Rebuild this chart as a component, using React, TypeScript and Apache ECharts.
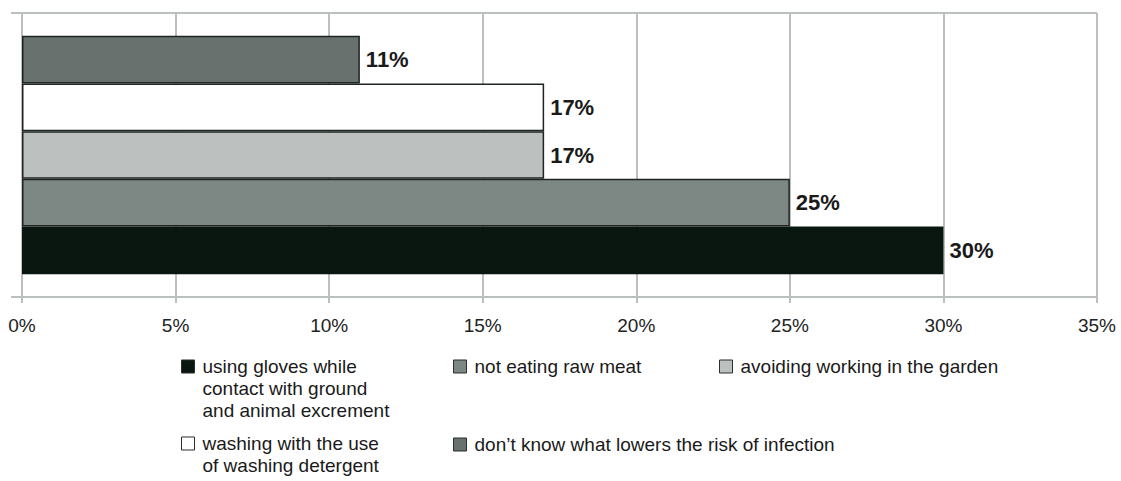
import React, { useEffect, useRef } from "react";
import * as echarts from "echarts";

// ---- data ----
const categories = [""];
const seriesNames = [
  "using gloves while contact with ground and animal excrement",
  "not eating raw meat",
  "avoiding working in the garden",
  "washing with the use of washing detergent",
  "don’t know what lowers the risk of infection",
];
const legendLines = [
  ["using gloves while", "contact with ground", "and animal excrement"],
  ["not eating raw meat"],
  ["avoiding working in the garden"],
  ["washing with the use", "of washing detergent"],
  ["don’t know what lowers the risk of infection"],
];
const seriesValues = [30, 25, 17, 17, 11];
const tickMin = 0;
const tickMax = 35;
const tickStep = 5;

// ---- styles ----
const colors = ["#0a1710", "#7d8784", "#bcc1bf", "#ffffff", "#69716e"];
const FONT = "'Liberation Sans', Arial, sans-serif";
const GRID = "#bbbfbd";
const LINE_H = 22;
const legendPos = [
  { left: 181, iconTop: 360 },
  { left: 453, iconTop: 360 },
  { left: 719, iconTop: 360 },
  { left: 181, iconTop: 437 },
  { left: 453, iconTop: 438 },
];

export default function App() {
  const ref = useRef<HTMLDivElement>(null);
  useEffect(() => {
    document.body.style.margin = "0";
    const chart = echarts.init(ref.current!, null, { renderer: "svg" });
    // draw the top bar first, bottom bar last
    const order = [4, 3, 2, 1, 0];
    const series = order.map((i) => ({
      type: "bar",
      name: seriesNames[i],
      data: [seriesValues[i]],
      barGap: "0%",
      barCategoryGap: "16%",
      itemStyle: {
        color: colors[i],
        borderColor: i === 0 ? colors[0] : "#1e2421",
        borderWidth: 1.5,
      },
      label: {
        show: true,
        position: "right",
        distance: 6,
        formatter: "{c}%",
        fontFamily: FONT,
        fontWeight: "bold",
        fontSize: 22,
        color: "#1a1a1a",
      },
      emphasis: { disabled: true },
    }));
    const legends = seriesNames.map((name, i) => {
      const n = legendLines[i].length;
      // leading blank lines keep the first text line level with the marker
      const text = "\n".repeat(n - 1) + legendLines[i].join("\n");
      return {
        show: true,
        data: [name],
        left: legendPos[i].left,
        top: legendPos[i].iconTop + 6.5 - (2 * n - 1) * (LINE_H / 2),
        padding: 0,
        itemWidth: 13,
        itemHeight: 13,
        selectedMode: false,
        icon: "rect",
        itemStyle: { borderColor: "#2a2f2c", borderWidth: 1 },
        formatter: () => text,
        textStyle: {
          fontFamily: FONT,
          fontSize: 19,
          lineHeight: LINE_H,
          color: "#1a1a1a",
          padding: [0, 0, 0, 3],
        },
      };
    });
    chart.setOption({
      animation: false,
      backgroundColor: "#ffffff",
      grid: {
        left: 22,
        right: 24,
        top: 13,
        bottom: 184,
        containLabel: false,
        outerBoundsMode: "none",
      },
      legend: legends,
      xAxis: {
        type: "value",
        min: tickMin,
        max: tickMax,
        interval: tickStep,
        axisLine: { show: true, lineStyle: { color: GRID, width: 2 } },
        axisTick: { show: true, length: 6, lineStyle: { color: GRID, width: 2 } },
        splitLine: { show: true, lineStyle: { color: GRID, width: 2 } },
        axisLabel: {
          formatter: "{value}%",
          fontFamily: FONT,
          fontSize: 19,
          color: "#222222",
          margin: 19,
        },
      },
      yAxis: {
        type: "category",
        data: categories,
        axisLine: { show: true, lineStyle: { color: GRID, width: 2 } },
        axisTick: { show: true, length: 11, lineStyle: { color: GRID, width: 2 } },
        splitLine: { show: true, lineStyle: { color: GRID, width: 2 } },
        axisLabel: { show: false },
      },
      series,
    });
    return () => chart.dispose();
  }, []);
  return <div ref={ref} style={{ width: 1121, height: 481 }} />;
}
